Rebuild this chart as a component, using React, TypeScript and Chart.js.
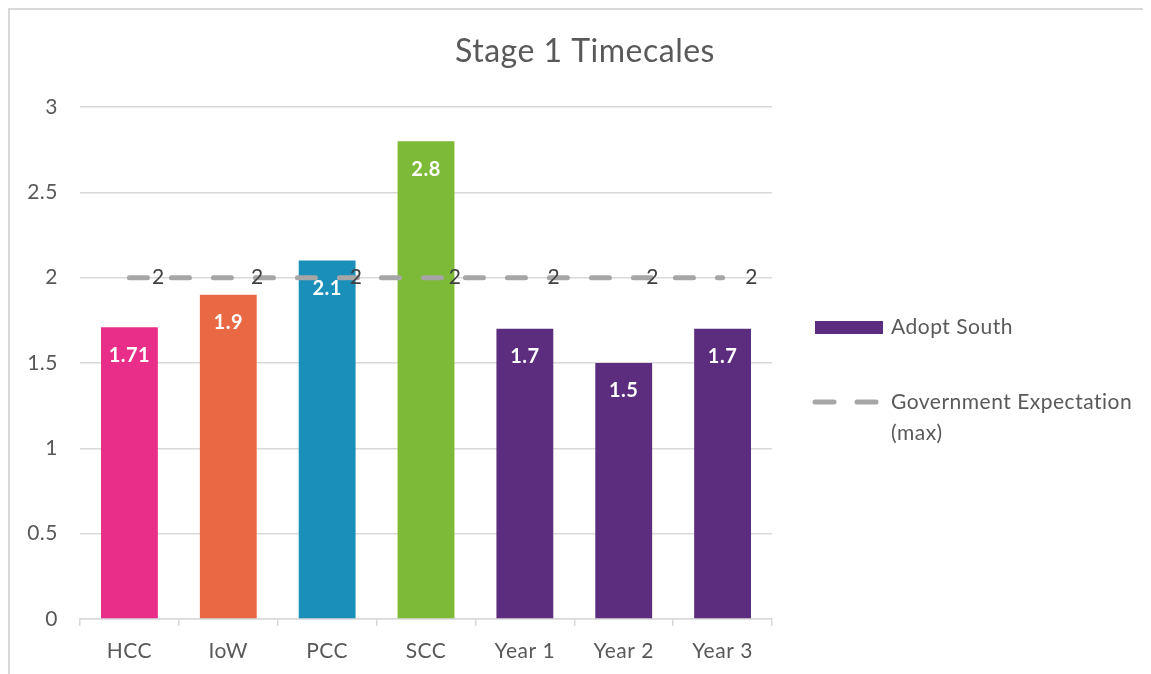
import React, { useEffect, useRef } from "react";
import { Chart, registerables } from "chart.js";

Chart.register(...registerables);

const TITLE = "Stage 1 Timecales";
const categories = ["HCC", "IoW", "PCC", "SCC", "Year 1", "Year 2", "Year 3"];
const adoptSouth = [1.71, 1.9, 2.1, 2.8, 1.7, 1.5, 1.7];
const govExpectation = [2, 2, 2, 2, 2, 2, 2];
const barColors = ["#E92E8A", "#E96944", "#1A8FBA", "#7CBA37", "#5C2D7E", "#5C2D7E", "#5C2D7E"];
const yTicks = [0, 0.5, 1, 1.5, 2, 2.5, 3];
const seriesNames = ["Adopt South", "Government Expectation (max)"];

const FONT = "Lato, 'Open Sans', sans-serif";
const TEXT = "#595959";
const LINE_GRAY = "#A6A6A6";

const overlay = {
  id: "overlay",
  beforeDraw(chart: any) {
    chart.ctx.letterSpacing = "0.5px";
  },
  afterDatasetsDraw(chart: any) {
    const ctx = chart.ctx;
    ctx.save();
    const barMeta = chart.getDatasetMeta(1);
    ctx.font = `bold 20px ${FONT}`;
    ctx.fillStyle = "#ffffff";
    ctx.textAlign = "center";
    ctx.textBaseline = "middle";
    barMeta.data.forEach((el: any, i: number) => {
      ctx.fillText(String(adoptSouth[i]), el.x, el.y + 28);
    });
    const lineMeta = chart.getDatasetMeta(0);
    ctx.font = `21px ${FONT}`;
    ctx.fillStyle = "#404040";
    lineMeta.data.forEach((el: any, i: number) => {
      ctx.fillText(String(govExpectation[i]), el.x + 29, el.y);
    });
    ctx.restore();
  },
  afterDraw(chart: any) {
    const ctx = chart.ctx;
    ctx.save();
    ctx.font = `32px ${FONT}`;
    ctx.fillStyle = TEXT;
    ctx.textAlign = "center";
    ctx.textBaseline = "middle";
    ctx.fillText(TITLE, 575, 42);
    ctx.fillStyle = "#5C2D7E";
    ctx.fillRect(805, 311, 68, 13);
    ctx.strokeStyle = LINE_GRAY;
    ctx.lineWidth = 5;
    ctx.lineCap = "round";
    ctx.beginPath();
    ctx.moveTo(805, 392);
    ctx.lineTo(824, 392);
    ctx.moveTo(847, 392);
    ctx.lineTo(866, 392);
    ctx.stroke();
    ctx.font = `21px ${FONT}`;
    ctx.fillStyle = TEXT;
    ctx.textAlign = "left";
    ctx.fillText(seriesNames[0], 881, 317);
    ctx.fillText("Government Expectation", 881, 392);
    ctx.fillText("(max)", 881, 423);
    ctx.restore();
  },
};

export default function App() {
  const ref = useRef<HTMLCanvasElement | null>(null);
  useEffect(() => {
    document.documentElement.style.overflow = "hidden";
    document.body.style.overflow = "hidden";
    const canvas = ref.current;
    if (!canvas) return;
    const chart = new Chart(canvas, {
      type: "bar",
      data: {
        labels: categories,
        datasets: [
          {
            type: "line",
            label: seriesNames[1],
            data: govExpectation,
            borderColor: LINE_GRAY,
            borderWidth: 5,
            borderDash: [18, 24],
            borderCapStyle: "round",
            pointRadius: 0,
            fill: false,
            order: 0,
          } as any,
          {
            type: "bar",
            label: seriesNames[0],
            data: adoptSouth,
            backgroundColor: barColors,
            barPercentage: 0.575,
            categoryPercentage: 1,
            order: 1,
          },
        ],
      },
      options: {
        responsive: false,
        animation: false,
        layout: { padding: { top: 97, right: 381, bottom: 0, left: 0 } },
        plugins: {
          legend: { display: false },
          title: { display: false },
          tooltip: { enabled: false },
        },
        scales: {
          x: {
            grid: {
              offset: true,
              drawOnChartArea: false,
              drawTicks: true,
              tickLength: 7,
              color: "#D9D9D9",
              lineWidth: 1.5,
            },
            border: { display: true, color: "#D9D9D9", width: 1.5 },
            ticks: { color: TEXT, font: { family: FONT, size: 21 }, padding: 13 },
            afterFit: (s: any) => {
              s.height = 47;
            },
          },
          y: {
            min: 0,
            max: 3,
            afterBuildTicks: (s: any) => {
              s.ticks = yTicks.map((v) => ({ value: v }));
            },
            grid: { drawTicks: false, color: "#D9D9D9", lineWidth: 1.5 },
            border: { display: false },
            ticks: {
              color: TEXT,
              font: { family: FONT, size: 21 },
              padding: 22,
              callback: (v: any) => String(v),
            },
            afterFit: (s: any) => {
              s.width = 70;
            },
          },
        },
      },
      plugins: [overlay],
    });
    return () => chart.destroy();
  }, []);
  return (
    <div
      style={{
        borderLeft: "2px solid #D9D9D9",
        borderTop: "2px solid #D9D9D9",
        width: 1151,
        height: 664,
        background: "#fff",
      }}
    >
      <canvas ref={ref} width={1143} height={656} style={{ display: "block" }} />
    </div>
  );
}
